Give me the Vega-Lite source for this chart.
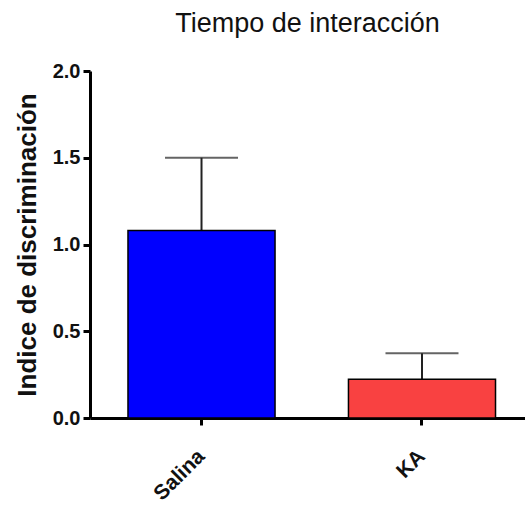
{
  "$schema": "https://vega.github.io/schema/vega-lite/v6.json",
  "width": 435,
  "height": 347,
  "autosize": {"type": "none"},
  "padding": {"left": 90, "top": 71, "right": 0, "bottom": 99},
  "background": "white",
  "title": {
    "text": "Tiempo de interacción",
    "font": "Liberation Sans",
    "fontSize": 27,
    "fontWeight": "normal",
    "color": "#111111",
    "anchor": "middle",
    "offset": 23
  },
  "config": {
    "view": {"stroke": null},
    "axis": {
      "zindex": 1,
      "domainColor": "black",
      "domainWidth": 3,
      "tickColor": "black",
      "tickWidth": 3,
      "tickSize": 7,
      "grid": false,
      "labelFont": "Liberation Sans",
      "labelFontWeight": "bold",
      "labelColor": "#111111",
      "titleFont": "Liberation Sans",
      "titleFontWeight": "bold",
      "titleColor": "#111111"
    }
  },
  "data": {
    "values": [
      {"grupo": "Salina", "media": 1.08, "superior": 1.50},
      {"grupo": "KA", "media": 0.223, "superior": 0.373}
    ]
  },
  "encoding": {
    "x": {
      "field": "grupo",
      "type": "nominal",
      "sort": ["Salina", "KA"],
      "scale": {"paddingInner": 0.333, "paddingOuter": 0.153, "align": 0.563},
      "axis": {
        "title": null,
        "labelAngle": -45,
        "labelAlign": "right",
        "labelBaseline": "middle",
        "labelFontSize": 21,
        "labelPadding": 28
      }
    }
  },
  "layer": [
    {
      "mark": {"type": "rule", "color": "#222222", "strokeWidth": 2},
      "encoding": {
        "y": {"field": "media", "type": "quantitative"},
        "y2": {"field": "superior"}
      }
    },
    {
      "mark": {"type": "tick", "color": "#222222", "thickness": 2, "size": 73, "orient": "horizontal"},
      "encoding": {
        "y": {"field": "superior", "type": "quantitative"}
      }
    },
    {
      "mark": {"type": "bar", "stroke": "black", "strokeWidth": 1.5},
      "encoding": {
        "y": {
          "field": "media",
          "type": "quantitative",
          "scale": {"domain": [0, 2], "nice": false, "zero": true},
          "axis": {
            "title": "Indice de discriminación",
            "titleFontSize": 26,
            "titlePadding": 12,
            "values": [0, 0.5, 1, 1.5, 2],
            "format": ".1f",
            "labelFontSize": 20,
            "labelPadding": 3
          }
        },
        "color": {
          "field": "grupo",
          "type": "nominal",
          "scale": {"domain": ["Salina", "KA"], "range": ["#0000FF", "#F94141"]},
          "legend": null
        }
      }
    }
  ]
}
